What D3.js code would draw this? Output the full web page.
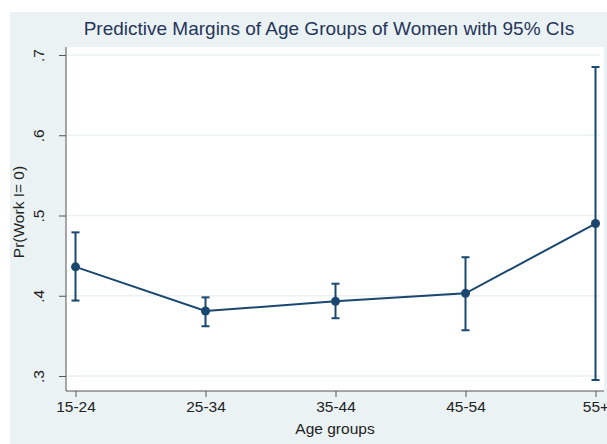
<!DOCTYPE html>
<html>
<head>
<meta charset="utf-8">
<script src="https://cdn.jsdelivr.net/npm/d3@7/dist/d3.min.js"></script>
<style>
  body { margin: 0; background: #fff; }
  svg { display: block; font-family: "Liberation Sans", Arial, sans-serif; }
</style>
</head>
<body>
<div id="chart"></div>
<script>
// --- Data ---
const ageGroups = ["15-24", "25-34", "35-44", "45-54", "55+"];
const margins = [0.436, 0.381, 0.393, 0.403, 0.490];
const ciLow = [0.394, 0.362, 0.372, 0.357, 0.295];
const ciHigh = [0.479, 0.398, 0.415, 0.448, 0.685];
const yTicks = [0.3, 0.4, 0.5, 0.6, 0.7];

const rows = ageGroups.map((g, i) => ({ g, m: margins[i], lo: ciLow[i], hi: ciHigh[i] }));

// --- Dimensions ---
const W = 607, H = 444;
const plot = { left: 66, right: 604, top: 47, bottom: 391 };
const navy = "#1a476f";

const svg = d3.select("#chart").append("svg")
  .attr("width", W).attr("height", H);

// background
svg.append("rect").attr("x", 10).attr("y", 12).attr("width", W - 10).attr("height", H - 12)
  .attr("fill", "#eaf2f3");
svg.append("rect").attr("x", plot.left).attr("y", plot.top)
  .attr("width", plot.right - plot.left).attr("height", plot.bottom - plot.top)
  .attr("fill", "#fff");

// --- Scales ---
const x = d3.scalePoint().domain(ageGroups).range([75.5, 595.5]);
const y = d3.scaleLinear().domain([0.3, 0.7]).range([376, 55]);

// gridlines
svg.append("g").selectAll("line").data(yTicks).join("line")
  .attr("x1", plot.left + 1).attr("x2", plot.right - 4)
  .attr("y1", d => y(d)).attr("y2", d => y(d))
  .attr("stroke", "#eaf2f3").attr("stroke-width", 1.5);

// --- Axes ---
const yAxis = svg.append("g")
  .attr("transform", `translate(${plot.left},0)`)
  .call(d3.axisLeft(y).tickValues(yTicks).tickSize(7)
    .tickFormat(d => d3.format(".1f")(d).replace(/^0/, "")));
yAxis.select(".domain").attr("d", `M0,${plot.top}V${plot.bottom}`);
yAxis.selectAll(".tick text")
  .attr("x", 0).attr("y", -27).attr("dy", "0.35em")
  .attr("text-anchor", "middle")
  .attr("transform", "rotate(-90)");

const xAxis = svg.append("g")
  .attr("transform", `translate(0,${plot.bottom})`)
  .call(d3.axisBottom(x).tickSize(6).tickPadding(4));
xAxis.select(".domain").attr("d", `M${plot.left},0H${plot.right}`);

svg.selectAll(".domain, .tick line").attr("stroke", "#555").attr("stroke-width", 1);
svg.selectAll(".tick text").attr("fill", "#222").style("font-size", "15.5px");

// axis titles
svg.append("text")
  .attr("x", (plot.left + plot.right) / 2).attr("y", 434)
  .attr("text-anchor", "middle").style("font-size", "15.5px").attr("fill", "#222")
  .text("Age groups");

svg.append("text")
  .attr("transform", `translate(24,212) rotate(-90)`)
  .attr("text-anchor", "middle").style("font-size", "15.5px").attr("fill", "#222")
  .text("Pr(Work I= 0)");

// title
svg.append("text")
  .attr("x", 329).attr("y", 35)
  .attr("text-anchor", "middle").style("font-size", "19px").attr("fill", "#26355a")
  .text("Predictive Margins of Age Groups of Women with 95% CIs");

// --- Error bars ---
const bars = svg.append("g").attr("stroke", navy).attr("stroke-width", 2);
bars.selectAll(".ci").data(rows).join("line")
  .attr("x1", d => x(d.g)).attr("x2", d => x(d.g))
  .attr("y1", d => y(d.lo)).attr("y2", d => y(d.hi));
bars.selectAll(".capHi").data(rows).join("line")
  .attr("x1", d => x(d.g) - 4).attr("x2", d => x(d.g) + 4)
  .attr("y1", d => y(d.hi)).attr("y2", d => y(d.hi));
bars.selectAll(".capLo").data(rows).join("line")
  .attr("x1", d => x(d.g) - 4).attr("x2", d => x(d.g) + 4)
  .attr("y1", d => y(d.lo)).attr("y2", d => y(d.lo));

// --- Line and points ---
svg.append("path").datum(rows)
  .attr("fill", "none").attr("stroke", navy).attr("stroke-width", 2)
  .attr("d", d3.line().x(d => x(d.g)).y(d => y(d.m)));

svg.selectAll(".pt").data(rows).join("circle")
  .attr("cx", d => x(d.g)).attr("cy", d => y(d.m)).attr("r", 4.5)
  .attr("fill", navy);
</script>
</body>
</html>
